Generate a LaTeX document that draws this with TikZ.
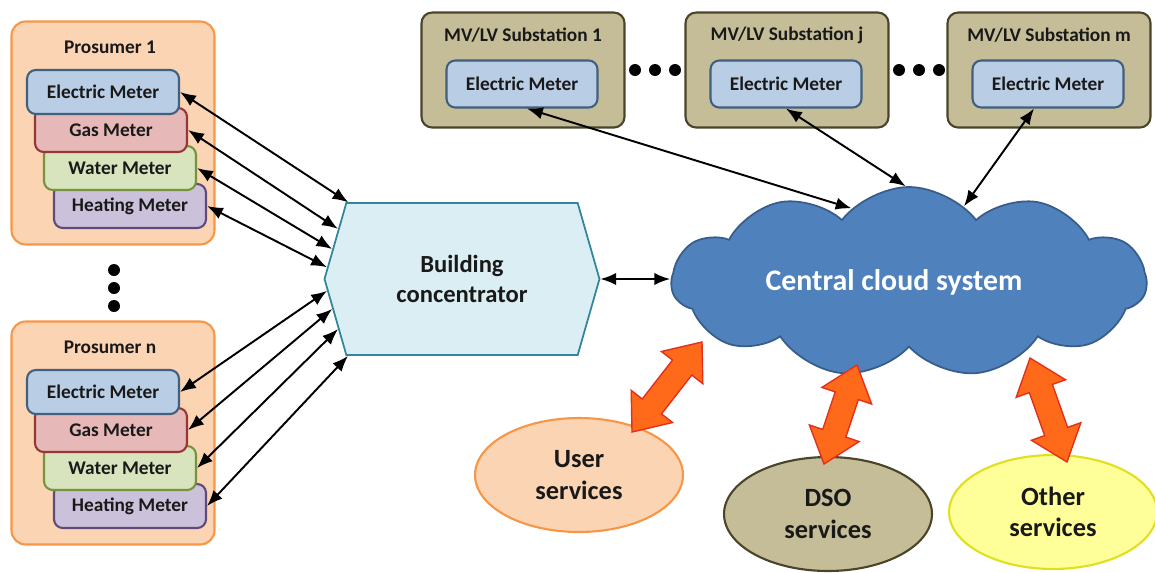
\documentclass[tikz,border=0pt]{standalone}
\usepackage{fontspec}
\setmainfont{Carlito}
\usetikzlibrary{shapes.geometric,shapes.symbols,shapes.arrows,arrows.meta,calc}

\definecolor{prosfill}{HTML}{FBD4B4}
\definecolor{prosdraw}{HTML}{F79646}
\definecolor{elecfill}{HTML}{B9CDE5}
\definecolor{elecdraw}{HTML}{41607F}
\definecolor{gasfill}{HTML}{E6B9B8}
\definecolor{gasdraw}{HTML}{953735}
\definecolor{waterfill}{HTML}{D7E4BD}
\definecolor{waterdraw}{HTML}{77933C}
\definecolor{heatfill}{HTML}{CCC1DA}
\definecolor{heatdraw}{HTML}{604A7B}
\definecolor{subfill}{HTML}{C4BD97}
\definecolor{subdraw}{HTML}{4A452A}
\definecolor{concfill}{HTML}{DBEEF4}
\definecolor{concdraw}{HTML}{31859C}
\definecolor{cloudfill}{HTML}{4F81BD}
\definecolor{clouddraw}{HTML}{385D8A}
\definecolor{fatfill}{HTML}{FF6A1A}
\definecolor{fatdraw}{HTML}{E3301C}
\definecolor{otherfill}{HTML}{FFFF99}
\definecolor{otherdraw}{HTML}{E0E020}

\begin{document}
\begin{tikzpicture}[x=0.02cm, y=-0.02cm,
  prosumer/.style={draw=prosdraw, fill=prosfill, line width=1.2pt, rounded corners=8pt,
    minimum width=4.06cm, minimum height=4.46cm},
  substation/.style={draw=subdraw, fill=subfill, line width=1.2pt, rounded corners=6pt,
    minimum width=4.06cm, minimum height=2.3cm},
  title/.style={font=\bfseries\fontsize{11}{13}\selectfont, text=black!90},
  meter/.style={rounded corners=5pt, line width=1.2pt, minimum width=3.04cm,
    minimum height=0.88cm, font=\bfseries\fontsize{11}{13}\selectfont, text=black!90},
  elec/.style={meter, draw=elecdraw, fill=elecfill},
  gas/.style={meter, draw=gasdraw, fill=gasfill},
  water/.style={meter, draw=waterdraw, fill=waterfill},
  heat/.style={meter, draw=heatdraw, fill=heatfill},
  dot/.style={circle, fill=black, inner sep=0pt, minimum size=0.24cm},
  link/.style={{Latex[length=9pt,width=7pt]}-{Latex[length=9pt,width=7pt]}, line width=1.1pt},
  fat/.style={double arrow, draw=fatdraw, fill=fatfill, line width=0.8pt, inner sep=0.23cm,
    double arrow head extend=0.28cm, double arrow tip angle=78},
  service/.style={ellipse, line width=1.2pt, inner sep=0pt, minimum width=4.16cm,
    minimum height=2.28cm, align=center, font=\bfseries\fontsize{15}{18}\selectfont,
    text=black!90}]
\useasboundingbox (0,0) rectangle (1155,572);

% prosumers and their meters
\foreach \k/\dy/\lbl in {1/0/1,2/300/n} {
  \node[prosumer] (p\k) at (113,133+\dy) {};
  \node[title] (pt\k) at (110,47+\dy) {Prosumer \lbl};
  \node[heat] (h\k) at (130,206+\dy) {Heating Meter};
  \node[water] (w\k) at (120,168+\dy) {Water Meter};
  \node[gas] (g\k) at (111,130+\dy) {Gas Meter};
  \node[elec] (e\k) at (103,92+\dy) {Electric Meter};
}
\foreach \y in {270,288,306}
  \node[dot] (vd\y) at (114,\y) {};

% building concentrator
\node[signal, signal to=west and east, signal pointer angle=148, draw=concdraw,
  fill=concfill, line width=1pt, minimum width=5.5cm, minimum height=3.04cm,
  align=center, font=\bfseries\fontsize{14}{17}\selectfont, text=black!90]
  (conc) at (462,279) {Building\\concentrator};

\foreach \m/\a in {e/146,g/158,w/167,h/175}
  \draw[link] (\m1.east) -- (conc.\a);
\foreach \m/\a in {e/185,g/193,w/202,h/214}
  \draw[link] (\m2.east) -- (conc.\a);

% substations
\foreach \k/\x/\lbl in {1/523/1,2/787/j,3/1049/m} {
  \node[substation] (s\k) at (\x,70) {};
  \node[title] (st\k) at (\x,35) {MV/LV Substation \lbl};
  \node[elec, minimum width=3.02cm, minimum height=0.94cm] (sm\k) at (\x-1,84) {Electric Meter};
}
\foreach \x in {635,655,675,899,919,939}
  \node[dot] (hd\x) at (\x,70) {};

% cloud
\node[cloud, cloud puffs=11, cloud puff arc=105, aspect=2.4, draw=clouddraw,
  fill=cloudfill, line width=1pt, minimum width=9.5cm, minimum height=3.8cm,
  font=\bfseries\fontsize{17}{20}\selectfont, text=white]
  (cloud) at (909,282) {\hspace*{-0.6cm}Central cloud system};

\draw[link] (conc.east) -- (conc.east -| cloud.west);
\draw[link] ([xshift=0.1cm]sm1.south) -- (cloud.128);
\draw[link] (sm2.south) -- (cloud.92);
\draw[link] ([xshift=-0.28cm]sm3.south) -- (cloud.54);

% services
\node[service, draw=prosdraw, fill=prosfill] (user) at (579,475) {User\\services};
\node[service, draw=subdraw, fill=subfill] (dso) at (828,514) {DSO\\services};
\node[service, draw=otherdraw, fill=otherfill] (other) at (1053,512) {Other\\services};

\coordinate (ua) at (702,342);
\coordinate (ub) at (632,432);
\coordinate (da) at (857,365);
\coordinate (db) at (824,464);
\coordinate (oa) at (1030,358);
\coordinate (ob) at (1067,462);
\foreach \s in {u,d,o}
  \path let \p1=($(\s a)-(\s b)$), \n1={veclen(\x1,\y1)} in
    (\s a) -- (\s b) node[fat, midway, sloped, minimum height=\n1] (\s fat) {};
\end{tikzpicture}
\end{document}
